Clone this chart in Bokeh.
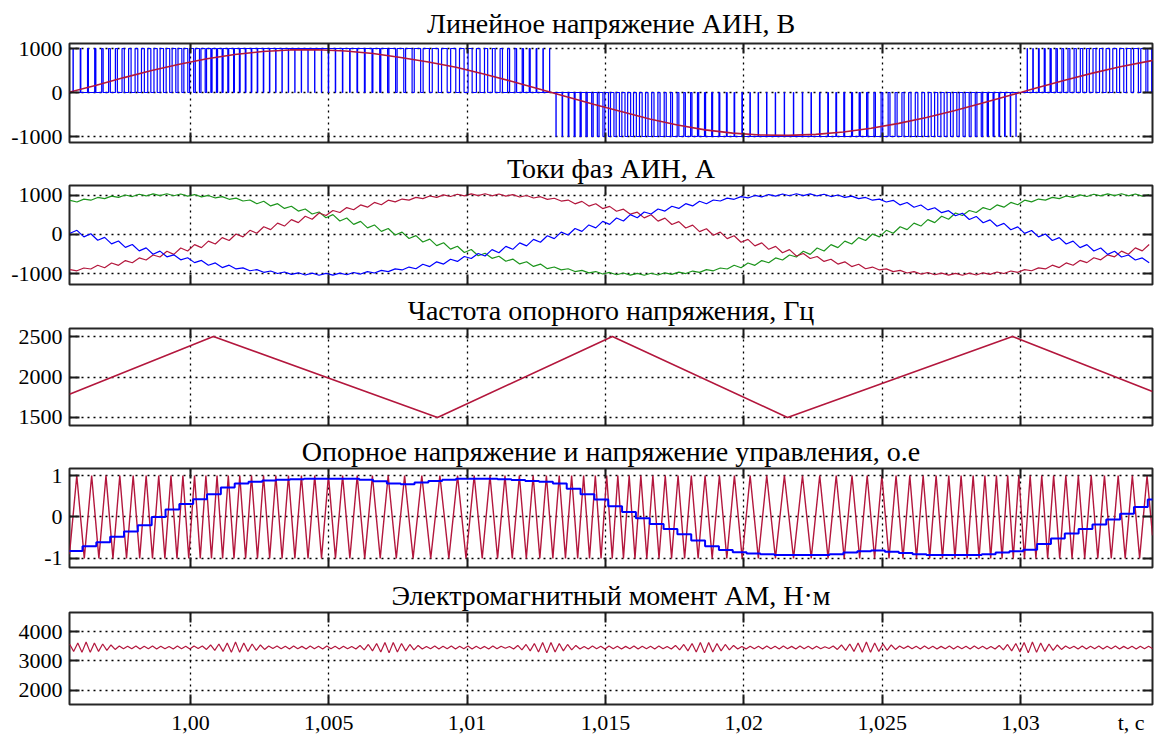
import numpy as np
from bokeh.plotting import figure
from bokeh.layouts import column
from bokeh.models import Range1d, FixedTicker, LinearAxis, Grid
from bokeh.embed import file_html
from bokeh.resources import INLINE

FONT = "Liberation Serif"
RED = "#b3173d"
BLUE = "#0000ff"
GREEN = "#1d951d"

# ---------------- shared x axis ----------------
X0, X1 = 0.99563, 1.03477
x_ticks = [1.00, 1.005, 1.01, 1.015, 1.02, 1.025, 1.03]
x_tick_labels = ["1,00", "1,005", "1,01", "1,015", "1,02", "1,025", "1,03"]
x_name_pos = 1.0340
x_axis_name = "t, с"

titles = ["Линейное напряжение АИН, В",
          "Токи фаз АИН, А",
          "Частота опорного напряжения, Гц",
          "Опорное напряжение и напряжение управления, о.е",
          "Электромагнитный момент АМ, Н·м"]

# ---------------- panel 1: line voltage fundamental (read every 1 ms) ----------------
uline_t0, uline_dt = 0.9956, 0.001
uline_fund = [5, 167, 339, 500, 644, 766, 863, 931, 968, 973, 945, 886, 797, 695, 576, 423,
              256, 81, -97, -272, -438, -602, -739, -849, -922, -964, -974, -952, -898, -813,
              -702, -567, -414, -246, -70, 107, 280, 441, 586, 708, 834]
uline_level = 1000  # PWM pulse level, V

# ---------------- panel 3: reference (carrier) frequency, Hz ----------------
freq_t = [0.99563, 1.00083, 1.00893, 1.01525, 1.02158, 1.02971, 1.03477]
freq_v = [1787, 2500, 1500, 2500, 1500, 2500, 1820]
carrier_phase0 = 0.05  # carrier just after a trough at the left edge

# ---------------- panel 4: control voltage (read every 0.5 ms) ----------------
ctrl_t0, ctrl_dt = 0.9956, 0.0005
ctrl = [-0.82, -0.71, -0.61, -0.48, -0.35, -0.20, 0.00, 0.18, 0.31, 0.43, 0.55, 0.71, 0.81,
        0.85, 0.88, 0.90, 0.91, 0.92, 0.92, 0.92, 0.92, 0.90, 0.86, 0.81, 0.79, 0.83, 0.87,
        0.90, 0.92, 0.92, 0.92, 0.91, 0.89, 0.87, 0.85, 0.81, 0.68, 0.55, 0.42, 0.26, 0.12,
        -0.03, -0.17, -0.29, -0.42, -0.57, -0.71, -0.80, -0.85, -0.88, -0.90, -0.92, -0.92,
        -0.92, -0.92, -0.90, -0.86, -0.83, -0.81, -0.84, -0.87, -0.90, -0.92, -0.92, -0.92,
        -0.92, -0.90, -0.86, -0.83, -0.79, -0.65, -0.52, -0.40, -0.29, -0.18, -0.06, 0.08,
        0.24, 0.42, 0.55]

# ---------------- panel 2: phase currents (read every 0.25 ms) ----------------
cur_t0, cur_dt = 0.99565, 0.00025
i_red = [-902, -931, -859, -885, -789, -852, -732, -791, -669, -725, -600, -653, -525, -576,
         -430, -509, -347, -424, -260, -336, -171, -245, -79, -153, 13, -60, 107, 33, 199, 125,
         291, 216, 380, 304, 467, 389, 550, 486, 615, 563, 690, 635, 759, 701, 822, 762, 879,
         835, 909, 881, 952, 920, 987, 951, 1014, 974, 1032, 989, 1043, 995, 1045, 992, 1038,
         982, 1023, 962, 1000, 935, 969, 900, 929, 857, 883, 786, 849, 729, 788, 665, 721, 596,
         649, 521, 572, 426, 505, 343, 420, 256, 331, 166, 240, 74, 148, -18, 60, -107, -33,
         -199, -125, -291, -216, -380, -304, -467, -389, -550, -486, -615, -563, -690, -635,
         -759, -701, -822, -762, -879, -835, -909, -881, -952, -920, -987, -951, -1014, -974,
         -1032, -989, -1043, -995, -1045, -992, -1038, -982, -1023, -962, -1000, -935, -969,
         -900, -929, -857, -883, -786, -849, -729, -788, -665, -721, -596, -649, -521, -572,
         -426, -505, -343, -420, -256]
i_blue = [33, 107, -60, 18, -148, -74, -240, -166, -331, -256, -420, -343, -505, -426, -572,
          -521, -649, -596, -721, -665, -788, -729, -849, -786, -883, -857, -929, -900, -969,
          -935, -1000, -962, -1023, -982, -1038, -992, -1045, -995, -1043, -989, -1032, -974,
          -1014, -951, -987, -920, -952, -881, -909, -835, -879, -762, -822, -701, -759, -635,
          -690, -563, -615, -486, -550, -389, -467, -304, -380, -216, -291, -125, -199, -33,
          -107, 60, -13, 153, 79, 245, 171, 336, 260, 424, 347, 509, 430, 576, 525, 653, 600,
          725, 669, 791, 732, 852, 789, 885, 859, 931, 902, 970, 937, 1001, 964, 1024, 982,
          1039, 993, 1045, 995, 1042, 988, 1032, 973, 1012, 950, 985, 919, 950, 879, 907, 833,
          876, 759, 819, 698, 755, 631, 686, 559, 611, 482, 546, 385, 463, 300, 376, 211, 286,
          120, 194, 28, 102, -60, 13, -153, -79, -245, -171, -336, -260, -424, -347, -509,
          -430, -576, -525, -653, -600, -725]
i_green = [876, 833, 907, 879, 950, 919, 985, 950, 1012, 973, 1032, 988, 1042, 995, 1045, 993,
           1039, 982, 1024, 964, 1001, 937, 970, 902, 931, 859, 885, 789, 852, 732, 791, 669,
           725, 600, 653, 525, 576, 430, 509, 347, 424, 260, 336, 171, 245, 79, 153, -13, 60,
           -102, -28, -194, -120, -286, -211, -376, -300, -463, -385, -546, -482, -611, -559,
           -686, -631, -755, -698, -819, -759, -876, -833, -907, -879, -950, -919, -985, -950,
           -1012, -973, -1032, -988, -1042, -995, -1045, -993, -1039, -982, -1024, -964, -1001,
           -937, -970, -902, -931, -859, -885, -789, -852, -732, -791, -669, -725, -600, -653,
           -525, -576, -430, -509, -347, -424, -260, -336, -171, -245, -79, -153, 13, -60, 107,
           33, 199, 125, 291, 216, 380, 304, 467, 389, 550, 486, 615, 563, 690, 635, 759, 701,
           822, 762, 879, 835, 909, 881, 952, 920, 987, 951, 1014, 974, 1032, 989, 1043, 995,
           1045, 992, 1038, 982, 1023]

# ---------------- panel 5: electromagnetic torque (read every 0.15 ms) ----------------
torque_t0, torque_dt = 0.99563, 0.00015
torque = [3578, 3325, 3612, 3292, 3645, 3292, 3612, 3325, 3578, 3358, 3545, 3392, 3512, 3415,
          3505, 3412, 3512, 3405, 3498, 3418, 3510, 3408, 3503, 3415, 3496, 3410, 3508, 3418,
          3500, 3406, 3510,
          3425, 3512, 3392, 3545, 3358, 3578, 3325, 3612, 3292, 3645, 3292, 3612, 3325, 3578,
          3358, 3545, 3392, 3512, 3425,
          3508, 3412, 3500, 3405, 3512, 3418, 3497, 3410, 3506, 3415, 3502, 3404, 3510, 3416,
          3498, 3409, 3505, 3413,
          3495, 3408, 3528, 3375, 3562, 3342, 3595, 3308, 3628, 3275, 3628, 3308, 3595, 3342,
          3562, 3375, 3528, 3408, 3495,
          3412, 3506, 3408, 3500, 3416, 3511, 3405, 3498, 3414, 3508, 3410, 3502, 3418, 3496,
          3407, 3509, 3413, 3504,
          3435, 3495, 3408, 3528, 3375, 3562, 3342, 3595, 3308, 3628, 3275, 3628, 3308, 3595,
          3342, 3562, 3375, 3528, 3408, 3495,
          3410, 3506, 3415, 3499, 3405, 3510, 3417, 3502, 3408, 3497, 3414, 3511, 3406, 3503,
          3416, 3498, 3409, 3507, 3412,
          3495, 3408, 3528, 3375, 3562, 3342, 3595, 3308, 3628, 3275, 3628, 3308, 3595, 3342,
          3562, 3375, 3528, 3408, 3495,
          3411, 3505, 3416, 3498, 3407, 3510, 3414, 3501, 3409, 3506, 3418, 3497, 3405, 3508,
          3413, 3500, 3410, 3504, 3415,
          3485, 3425, 3512, 3392, 3545, 3358, 3578, 3325, 3612, 3292, 3645, 3292, 3612, 3325,
          3578, 3358, 3545, 3392, 3512, 3425,
          3506, 3412, 3499, 3408, 3511, 3416, 3502, 3405, 3497, 3414, 3509, 3410, 3503, 3417,
          3498, 3406, 3507, 3413, 3500, 3409,
          3495, 3408, 3528, 3375, 3562, 3342, 3595, 3308, 3628, 3275, 3645, 3292, 3612, 3325,
          3578, 3358, 3545, 3392, 3512, 3425,
          3504, 3411, 3509, 3406, 3498, 3415, 3506, 3410, 3500, 3417, 3511, 3408, 3497, 3413,
          3505, 3409, 3502, 3416, 3499, 3412]

# ---------------- y axes ----------------
y_ranges = [(-1136, 1114), (-1282, 1256), (1401, 2599), (-1.22, 1.17), (1508, 4656)]
y_ticks = [[-1000, 0, 1000], [-1000, 0, 1000], [1500, 2000, 2500], [-1, 0, 1], [2000, 3000, 4000]]
y_tick_labels = [["-1000", "0", "1000"], ["-1000", "0", "1000"], ["1500", "2000", "2500"],
                 ["-1", "0", "1"], ["2000", "3000", "4000"]]

# layout: (figure height, top border, bottom border, title standoff)
geom = [(149, 43, 7, 10), (141, 36, 6, 3), (142, 38, 7, 5), (143, 36, 8, 3), (162, 37, 29, 4)]


def axis(ticker, show_labels, standoff=7, overrides=None, ticks=True):
    ax = LinearAxis(ticker=ticker, axis_line_color=None, major_tick_in=10, major_tick_out=0,
                    major_tick_line_width=2, major_tick_line_color="#1a1a1a",
                    minor_tick_line_color=None, major_label_text_font=FONT,
                    major_label_text_color="black")
    if not ticks:
        ax.major_tick_line_color = None
        ax.major_tick_in = 0
    if show_labels:
        ax.major_label_text_font_size = "22px"
        ax.major_label_standoff = standoff
        if overrides:
            ax.major_label_overrides = overrides
    else:
        ax.major_label_text_font_size = "0px"
        ax.major_label_text_color = None
        ax.major_label_standoff = 0
    return ax


def make_panel(i, last=False):
    h, top, bot, tstand = geom[i]
    lo, hi = y_ranges[i]
    p = figure(width=1156, height=h, x_range=Range1d(X0, X1), y_range=Range1d(lo, hi),
               x_axis_type=None, y_axis_type=None, output_backend="svg", toolbar_location=None,
               min_border_left=69, min_border_right=4, min_border_top=top, min_border_bottom=bot,
               title=titles[i])
    p.title.align = "center"
    p.title.text_font = FONT
    p.title.text_font_size = "28px"
    p.title.text_font_style = "normal"
    p.title.text_color = "black"
    p.title.standoff = tstand
    p.title.offset = 0
    p.outline_line_color = "#262626"
    p.outline_line_width = 2
    xt = FixedTicker(ticks=x_ticks)
    yt = FixedTicker(ticks=y_ticks[i])
    for dim, tk in ((0, xt), (1, yt)):
        p.add_layout(Grid(dimension=dim, ticker=tk, grid_line_color="black",
                          grid_line_dash="2 4", grid_line_width=1.3))
    p.add_layout(axis(xt, False), "below")
    if last:
        lab_ticks = FixedTicker(ticks=x_ticks + [x_name_pos])
        p.add_layout(axis(lab_ticks, True, 5,
                          dict(zip(x_ticks + [x_name_pos], x_tick_labels + [x_axis_name])),
                          ticks=False), "below")
    p.add_layout(axis(xt, False), "above")
    p.add_layout(axis(yt, True, 7, dict(zip(y_ticks[i], y_tick_labels[i]))), "left")
    p.add_layout(axis(yt, False), "right")
    return p


# ---- carrier vertices from the read carrier frequency ----
tt = np.linspace(X0, X1, 40001)
ff = np.interp(tt, freq_t, freq_v)
ph = carrier_phase0 + np.concatenate([[0.0], np.cumsum((ff[1:] + ff[:-1]) * np.diff(tt))])
n = np.arange(1, int(ph[-1]) + 1)
vt = np.interp(n, ph, tt)
vv = np.where(n % 2 == 1, 1.0, -1.0)
frac_end = ph[-1] - int(ph[-1])
car_t = np.concatenate([[X0], vt, [X1]])
car_v = np.concatenate([[-1 + 2 * carrier_phase0], vv, [vv[-1] * (1 - 2 * frac_end)]])

# ---- line-voltage PWM pulses: one pulse per carrier half period, width ~ |u|/Udc ----
uline_t = uline_t0 + uline_dt * np.arange(len(uline_fund))
pwm_x, pwm_y = [X0], [0.0]
for a, b in zip(car_t[:-1], car_t[1:]):
    mid = 0.5 * (a + b)
    u = np.interp(mid, uline_t, uline_fund)
    d = min(abs(u) / uline_level, 1.0)
    if d < 0.01:
        continue
    lvl = uline_level if u > 0 else -uline_level
    e1, e2 = mid - 0.5 * d * (b - a), mid + 0.5 * d * (b - a)
    pwm_x += [e1, e1, e2, e2]
    pwm_y += [0.0, lvl, lvl, 0.0]
pwm_x.append(X1)
pwm_y.append(0.0)

# ---------------- panels ----------------
p1 = make_panel(0)
p1.line(pwm_x, pwm_y, line_color=BLUE, line_width=1.2)
p1.line(uline_t, uline_fund, line_color=RED, line_width=1.6)

p2 = make_panel(1)
p2.line(cur_t0 + cur_dt * np.arange(len(i_green)), i_green, line_color=GREEN, line_width=1.2)
p2.line(cur_t0 + cur_dt * np.arange(len(i_red)), i_red, line_color=RED, line_width=1.2)
p2.line(cur_t0 + cur_dt * np.arange(len(i_blue)), i_blue, line_color=BLUE, line_width=1.2)

p3 = make_panel(2)
p3.line(freq_t, freq_v, line_color=RED, line_width=1.6)

p4 = make_panel(3)
p4.line(car_t, car_v, line_color=RED, line_width=1.4)
p4.step(ctrl_t0 + ctrl_dt * np.arange(len(ctrl)), ctrl, mode="after", line_color=BLUE,
        line_width=2)

p5 = make_panel(4, last=True)
p5.line(torque_t0 + torque_dt * np.arange(len(torque)), torque, line_color=RED, line_width=1.2)

layout = column(p1, p2, p3, p4, p5, spacing=0)
open("out.html", "w").write(file_html(layout, INLINE))
